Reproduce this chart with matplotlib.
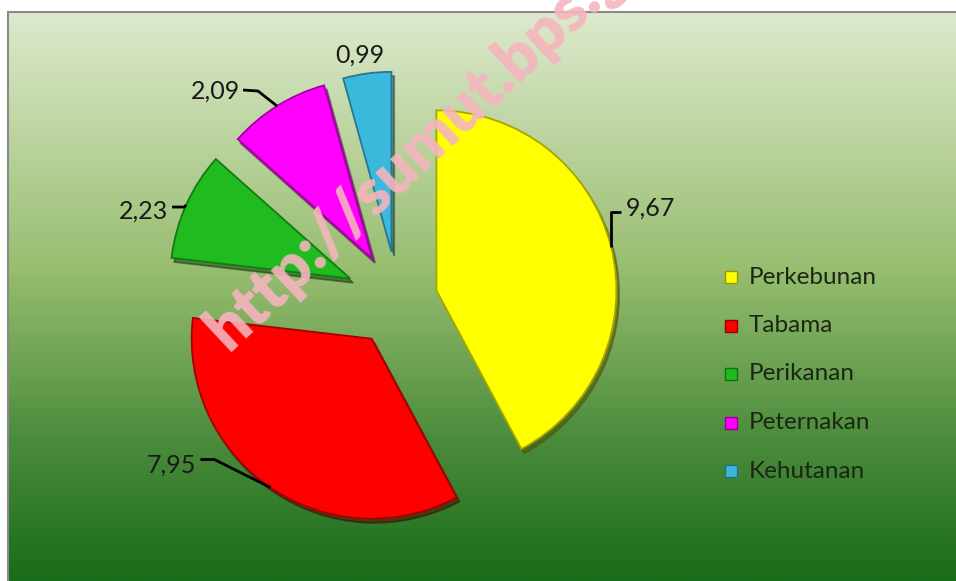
import numpy as np
import matplotlib
matplotlib.use("Agg")
import matplotlib.pyplot as plt
from matplotlib.patches import Rectangle
from matplotlib.colors import to_rgb

categories = ["Perkebunan", "Tabama", "Perikanan", "Peternakan", "Kehutanan"]
values = [9.67, 7.95, 2.23, 2.09, 0.99]
value_labels = ["9,67", "7,95", "2,23", "2,09", "0,99"]
colors = ["#ffff00", "#ff0000", "#1fbb1f", "#ff00ff", "#3bb9dc"]

W, H = 956, 581
plt.rcParams['font.family'] = ['Lato', 'DejaVu Sans']

fig = plt.figure(figsize=(W / 100, H / 100), dpi=100)
ax = fig.add_axes([0, 0, 1, 1])


def py(y):
    # pixel row (from top) -> data y
    return H - y


def darker(c, f=0.6):
    r, g, b = to_rgb(c)
    return (r * f, g * f, b * f)


# gradient background panel
stops = np.array([0.0, 0.45, 0.75, 1.0])
cols = np.array([[222, 233, 205], [152, 190, 112], [75, 140, 60], [25, 108, 25]]) / 255
t = np.linspace(0, 1, 400)
grad = np.stack([np.interp(t, stops, cols[:, i]) for i in range(3)], axis=1)
grad = np.repeat(grad[:, None, :], 2, axis=1)
ax.imshow(grad, extent=(8, W + 2, 0, py(12)), aspect='auto', zorder=0, interpolation='bilinear')
ax.add_patch(Rectangle((8, -5), W, py(12) + 5, fill=False, edgecolor='#8a8a8a', lw=1.5, zorder=1))

# pie (explode given as fraction of radius; matplotlib wants data units)
radius = 180
explode = [f * radius for f in [0.22, 0.26, 0.29, 0.27, 0.27]]
center = (398, py(300))
wedges, _ = ax.pie(values, colors=colors, startangle=90, counterclock=False,
                   radius=radius, center=center, explode=explode,
                   shadow={'ox': 2, 'oy': -3, 'shade': 0.7},
                   wedgeprops=dict(linewidth=1.3))
for w, c in zip(wedges, colors):
    w.set_edgecolor(darker(c, 0.65))
    w.set_zorder(3)

# data labels with leader lines (offsets from arc midpoint, in pixels)
label_layout = [
    # elbow, line end, text pos, ha
    ((0, -35), (10, -35), (15, -38), 'left'),
    ((-56, -28), (-70, -28), (-74, -22), 'right'),
    ((-2, 2), (-14, 2), (-18, 6), 'right'),
    ((-19, -15), (-34, -16), (-37, -15), 'right'),
    (None, None, (-7, -18), 'center'),
]
for w, lab, (elb, end, tp, ha) in zip(wedges, value_labels, label_layout):
    mid = np.deg2rad((w.theta1 + w.theta2) / 2)
    cx, cy = w.center
    ax_, ay_ = cx + w.r * np.cos(mid), cy + w.r * np.sin(mid)
    if elb is not None:
        xs = [ax_, ax_ + elb[0], ax_ + end[0]]
        ys = [ay_, ay_ - elb[1], ay_ - end[1]]
        ax.plot(xs, ys, color='black', lw=2, zorder=4, solid_capstyle='butt')
    ax.text(ax_ + tp[0], ay_ - tp[1], lab, ha=ha, va='center', fontsize=18,
            color='#1a1a1a', zorder=5)

# legend
for i, (cat, c) in enumerate(zip(categories, colors)):
    yy = py(277 + 48.5 * i)
    ax.add_patch(Rectangle((725, yy - 6), 12, 12, facecolor=c, edgecolor=darker(c, 0.6),
                           lw=1, zorder=4))
    ax.text(749, yy, cat, ha='left', va='center', fontsize=17.5, color='#1c2614', zorder=5)

# watermark
ax.text(228, py(352), "http://sumut.bps.go.id", rotation=43, rotation_mode='anchor',
        ha='left', va='baseline', fontsize=46, fontweight='heavy', color='#f5b5bd',
        alpha=0.9, zorder=6, family=['Lato', 'DejaVu Sans'], clip_on=True)

ax.set_xlim(0, W)
ax.set_ylim(0, H)
ax.set_aspect('auto')
ax.axis('off')

fig.savefig("out.png", dpi=100, facecolor='white')
